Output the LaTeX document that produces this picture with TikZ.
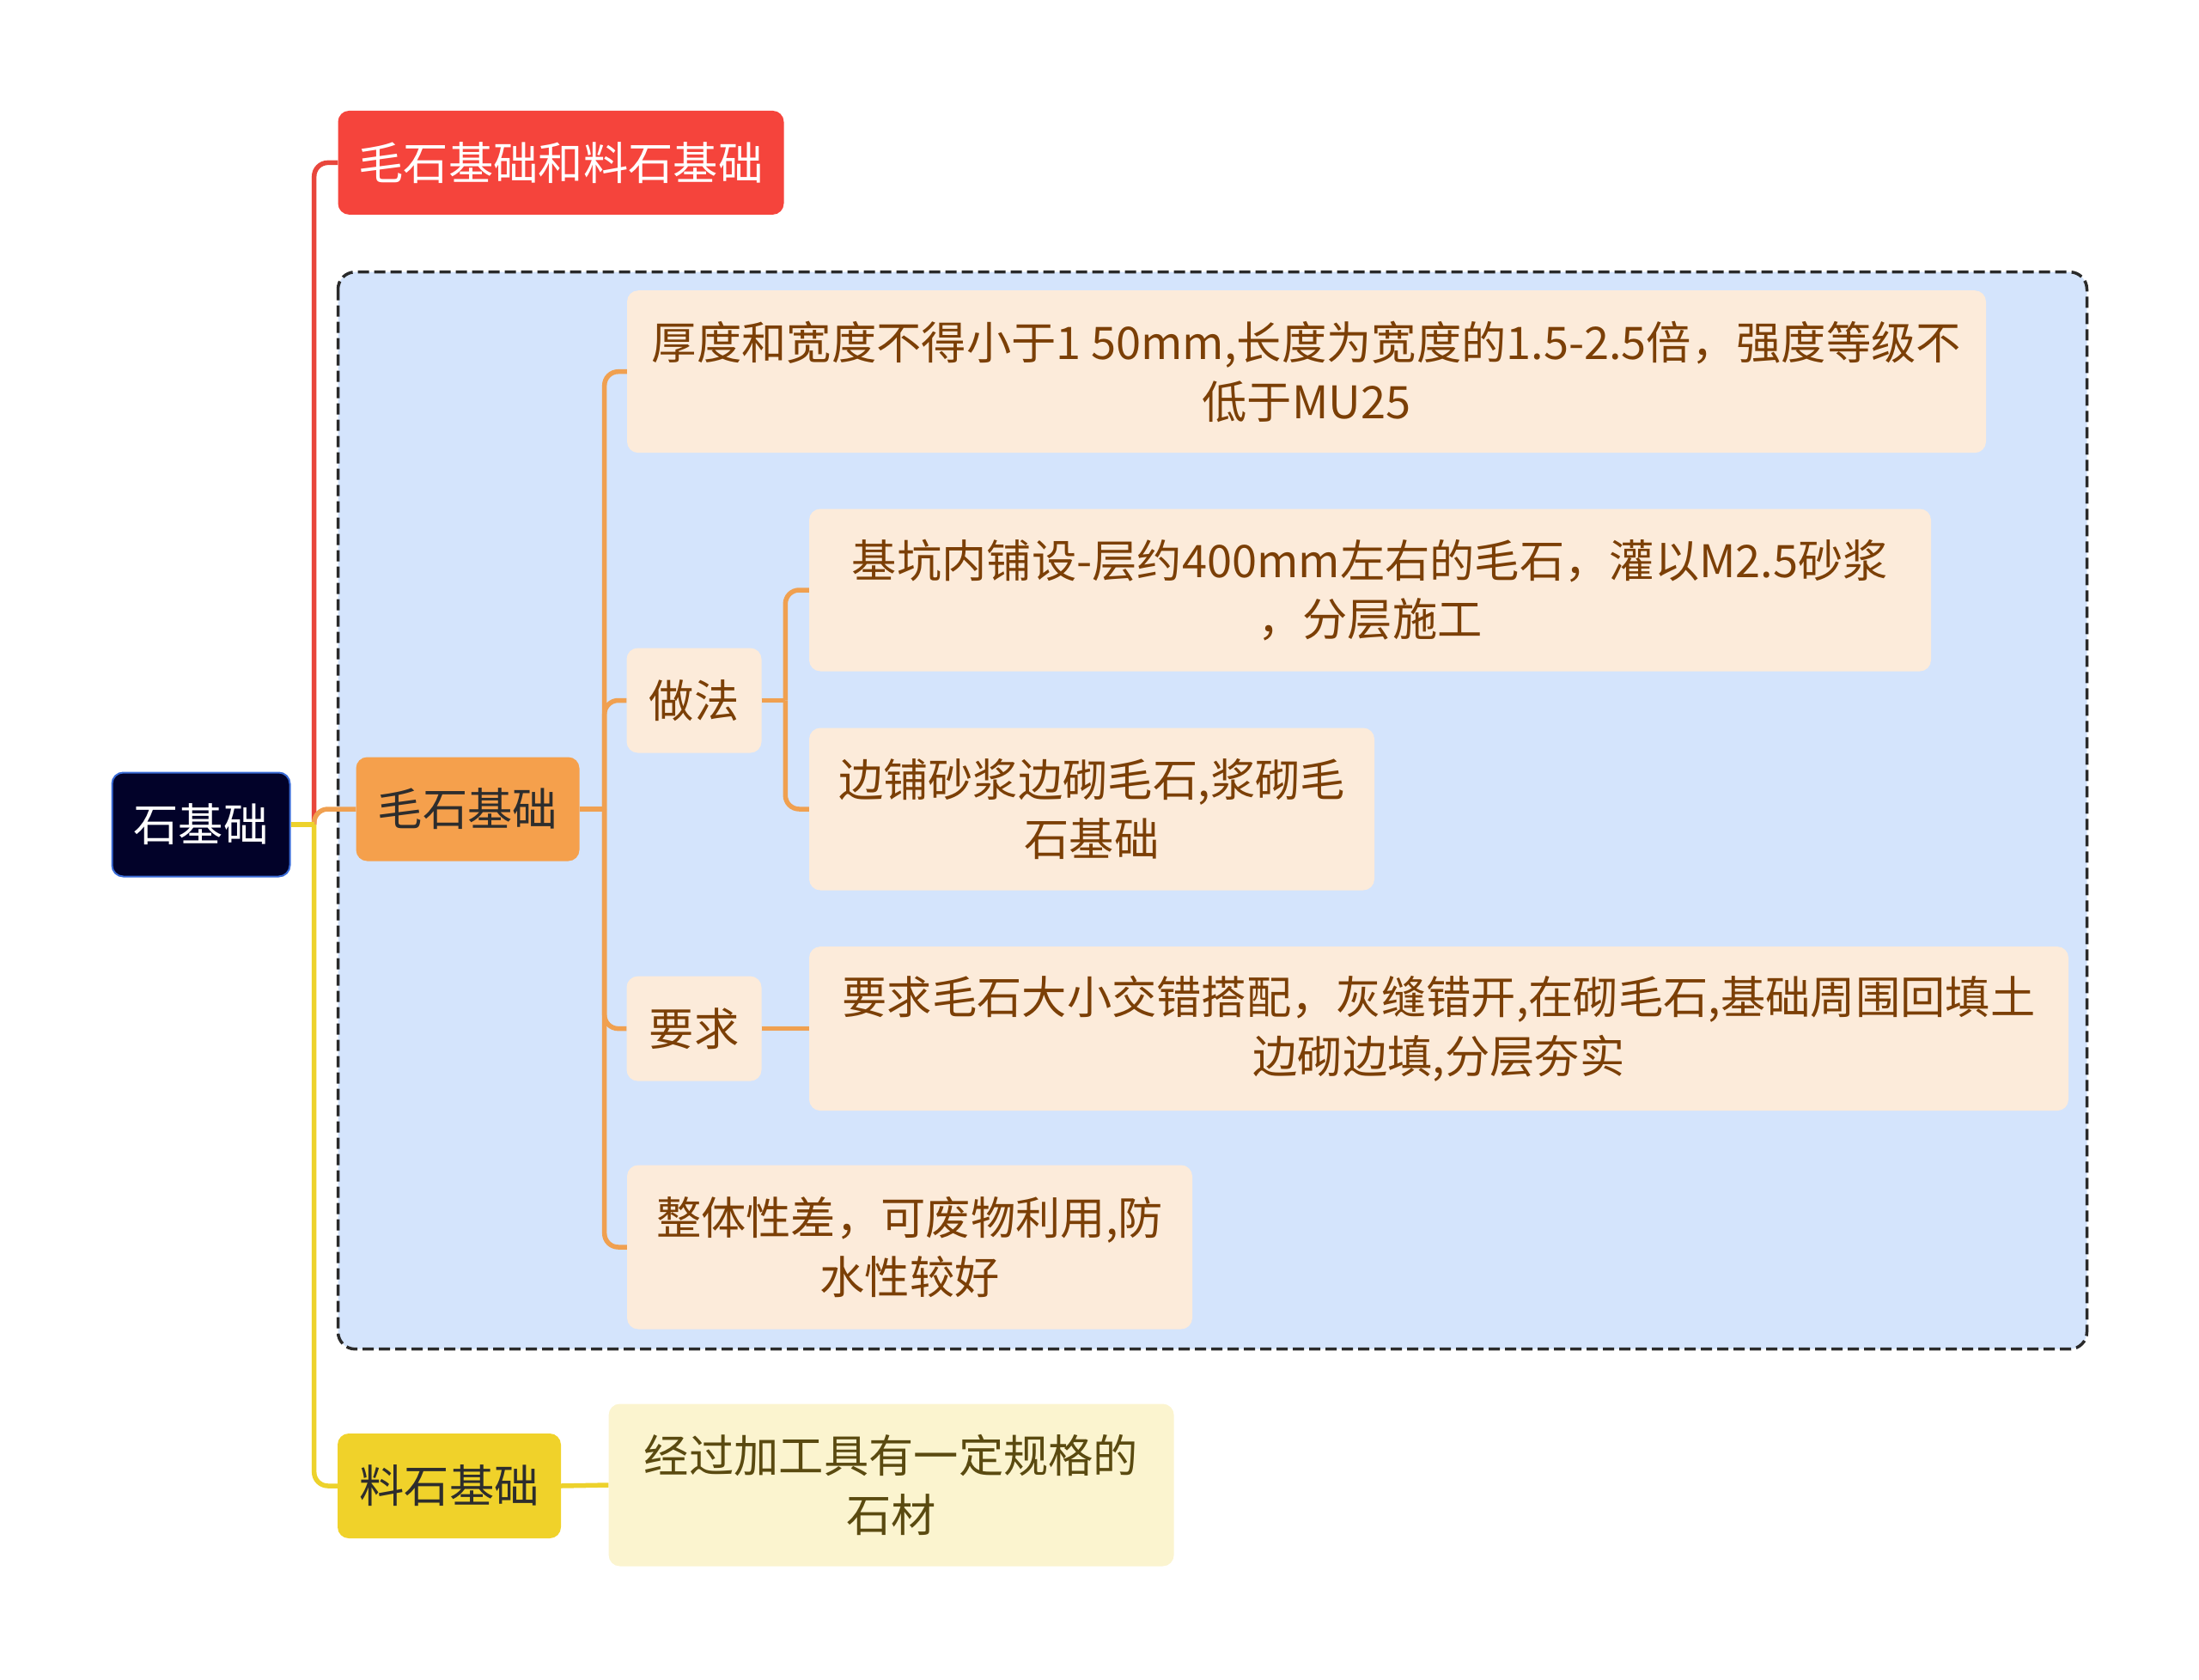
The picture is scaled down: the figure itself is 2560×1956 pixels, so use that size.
\documentclass[tikz,border=0pt]{standalone}
\usepackage{fontspec}
\setmainfont{Noto Sans CJK SC}
\definecolor{rootfill}{HTML}{020229}
\definecolor{rootdraw}{HTML}{3A6BD6}
\definecolor{redfill}{HTML}{F5443C}
\definecolor{redline}{HTML}{E8463C}
\definecolor{orfill}{HTML}{F5A04C}
\definecolor{orline}{HTML}{F0A050}
\definecolor{yefill}{HTML}{F0D22A}
\definecolor{yeline}{HTML}{EDD22C}
\definecolor{groupfill}{HTML}{D4E4FC}
\definecolor{groupdraw}{HTML}{2A2A2A}
\definecolor{leaffill}{HTML}{FCEBDA}
\definecolor{leaftext}{HTML}{7B3F06}
\definecolor{yleaffill}{HTML}{FBF4CF}
\definecolor{yleaftext}{HTML}{5A4A10}
\definecolor{darktext}{HTML}{2D2D2D}
\tikzset{
  basebox/.style={rounded corners=13pt, inner sep=0pt, align=center, font=\fontsize{52.3}{68.6}\selectfont},
  rootbox/.style={basebox, fill=rootfill, draw=rootdraw, line width=2pt, text=white},
  redbox/.style={basebox, fill=redfill, text=white},
  orbox/.style={basebox, fill=orfill, text=darktext},
  yebox/.style={basebox, fill=yefill, text=darktext},
  leafbox/.style={basebox, fill=leaffill, text=leaftext},
  yleafbox/.style={basebox, fill=yleaffill, text=yleaftext},
  conn/.style={line width=5.5pt, rounded corners=16pt},
  redconn/.style={conn, draw=redline},
  orconn/.style={conn, draw=orline},
  yeconn/.style={conn, draw=yeline},
}
\begin{document}
\begin{tikzpicture}[x=1pt,y=-1pt]
\useasboundingbox (0,0) rectangle (2560,1956);
% group box
\draw[fill=groupfill, draw=groupdraw, line width=3.5pt, dash pattern=on 13pt off 6pt, rounded corners=20pt]
  (393.5,316.7) rectangle (2429.5,1570.7);

% nodes
\node[rootbox, minimum width=207pt, minimum height=121pt] (root) at (234,960) {石基础};
\node[redbox, minimum width=519pt, minimum height=121pt] (red) at (653,189.4) {毛石基础和料石基础};
\node[orbox, minimum width=260pt, minimum height=121pt] (mao) at (544.5,942) {毛石基础};
\node[yebox, minimum width=260pt, minimum height=122pt] (liao) at (523,1730) {料石基础};

\node[leafbox, minimum width=1582pt, minimum height=189pt] (l1) at (1521,432.7)
  {厚度和宽度不得小于1 50mm,长度为宽度的1.5-2.5倍，强度等级不\\低于MU25};
\node[leafbox, minimum width=157pt, minimum height=122pt] (zf) at (808,815.5) {做法};
\node[leafbox, minimum width=1306pt, minimum height=189pt] (k1) at (1595,687)
  {基坑内铺设-层约400mm左右的毛石，灌以M2.5砂浆\\，分层施工};
\node[leafbox, minimum width=658pt, minimum height=189pt] (k2) at (1271,942)
  {边铺砂浆边砌毛石,浆砌毛\\石基础};
\node[leafbox, minimum width=157pt, minimum height=122pt] (yq) at (808,1197.6) {要求};
\node[leafbox, minimum width=1466pt, minimum height=191pt] (yl) at (1675,1197.6)
  {要求毛石大小交错搭配，灰缝错开,在砌毛石,基础周围回填土\\边砌边填,分层夯实};
\node[leafbox, minimum width=658pt, minimum height=191pt] (zt) at (1059,1452)
  {整体性差，可废物利用,防\\水性较好};
\node[yleafbox, minimum width=658pt, minimum height=189pt] (jg) at (1037.6,1729)
  {经过加工具有一定规格的\\石材};

% junctions
\coordinate (j) at (365.7,960);
\coordinate (mj) at (703.7,942);
\coordinate (zj) at (914.3,815.5);

% root connectors
\draw[redconn] (j) |- (red.west);
\draw[orconn] (j) |- (mao.west);
\draw[yeconn] (j) |- (liao.west);
\draw[yeconn] (root.east) -- (j);

% 毛石基础 children
\draw[orconn] (mao.east) -- (mj);
\draw[orconn] (mj) |- (l1.west);
\draw[orconn] (mj) |- (zf.west);
\draw[orconn] (mj) |- (yq.west);
\draw[orconn] (mj) |- (zt.west);

% 做法 children
\draw[orconn] (zf.east) -- (zj);
\draw[orconn] (zj) |- (k1.west);
\draw[orconn] (zj) |- (k2.west);

% 要求 child
\draw[orconn] (yq.east) -- (yl.west);

% 料石基础 child
\draw[yeconn] (liao.east) -- (jg.west);
\end{tikzpicture}
\end{document}
